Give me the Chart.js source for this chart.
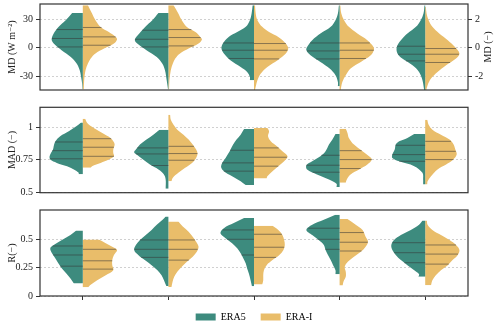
<!DOCTYPE html>
<html>
<head>
<meta charset="utf-8">
<script src="https://cdn.jsdelivr.net/npm/chart.js@4.4.0/dist/chart.umd.min.js"></script>
<style>
  body { margin: 0; background: #fff; width: 500px; height: 325px; overflow: hidden; position: relative; }
  canvas { position: absolute; left: 0; }
</style>
</head>
<body>
<canvas id="mdChart" width="500" height="100" style="top:0"></canvas>
<canvas id="madChart" width="500" height="100" style="top:100px"></canvas>
<canvas id="rChart" width="500" height="132" style="top:200px"></canvas>
<script>
// categories and series
var categories = ['λρE (3h)', 'λρE (24h)', 'H (3h)', 'H (24h)', 'β (24h)'];
var seriesNames = ['ERA5', 'ERA-I'];

// violin profiles: [value, relative density], read from top to bottom
// MD panel: first two categories in W m-2 (left axis), the rest in (-) (right axis)
var mdEra5 = [
  [[36.4,0.31],[28.7,0.50],[21.7,0.71],[14.7,0.85],[8.4,0.91],[4.2,0.85],[-2.8,0.62],[-9.9,0.35],[-16.8,0.18],[-23.9,0.09],[-30.9,0.05],[-37.9,0.02],[-44.2,0.01]],
  [[36.4,0.29],[28.7,0.47],[21.7,0.68],[14.7,0.85],[8.4,0.98],[4.2,0.91],[-2.8,0.64],[-9.9,0.34],[-16.8,0.18],[-23.9,0.10],[-34.4,0.05],[-44.2,0.01]],
  [[2.97,0.04],[2.39,0.07],[1.92,0.12],[1.45,0.24],[1.09,0.49],[0.74,0.74],[0.28,0.91],[-0.07,0.95],[-0.42,0.88],[-0.89,0.69],[-1.36,0.39],[-1.71,0.20],[-2.06,0.12],[-2.29,0.12]],
  [[2.97,0.02],[2.39,0.05],[1.92,0.12],[1.45,0.26],[0.98,0.56],[0.51,0.80],[0.04,0.95],[-0.19,0.97],[-0.54,0.85],[-1.01,0.56],[-1.47,0.29],[-1.94,0.12],[-2.41,0.05],[-2.72,0.05]],
  [[2.97,0.02],[2.39,0.05],[1.92,0.13],[1.45,0.27],[0.98,0.52],[0.51,0.71],[0.04,0.83],[-0.42,0.81],[-0.77,0.67],[-1.24,0.37],[-1.71,0.18],[-2.29,0.08],[-2.98,0.03]]
];
var mdEraI = [
  [[44.5,0.15],[35.8,0.27],[28.7,0.37],[21.7,0.52],[16.4,0.76],[11.2,0.96],[8.4,1.0],[4.2,0.91],[-1.1,0.62],[-6.3,0.37],[-11.6,0.23],[-16.8,0.15],[-23.9,0.08],[-34.4,0.04],[-44.2,0.03]],
  [[44.5,0.15],[35.8,0.29],[28.7,0.39],[21.7,0.54],[16.4,0.79],[11.2,0.93],[8.4,0.98],[4.2,0.88],[-1.1,0.59],[-6.3,0.34],[-11.6,0.20],[-16.8,0.13],[-23.9,0.07],[-34.4,0.03],[-44.2,0.02]],
  [[2.97,0.03],[2.39,0.05],[1.92,0.10],[1.45,0.24],[1.09,0.44],[0.74,0.71],[0.28,0.93],[-0.07,1.0],[-0.42,0.93],[-0.89,0.69],[-1.36,0.39],[-1.82,0.20],[-2.29,0.10],[-2.76,0.05],[-2.98,0.03]],
  [[2.97,0.02],[2.39,0.05],[1.92,0.13],[1.45,0.27],[0.98,0.52],[0.51,0.81],[0.04,0.99],[-0.19,1.0],[-0.54,0.91],[-1.01,0.62],[-1.47,0.32],[-1.94,0.18],[-2.41,0.08],[-2.98,0.03]],
  [[2.85,0.02],[2.39,0.04],[1.92,0.10],[1.45,0.21],[0.98,0.41],[0.51,0.66],[0.04,0.87],[-0.42,1.0],[-0.77,0.90],[-1.24,0.61],[-1.71,0.36],[-2.18,0.17],[-2.64,0.07],[-2.98,0.03]]
];
var mdEra5Quart = [[18.9,9.5,0.6],[18.2,8.7,0.6],[0.32,-0.19,-0.77],[0.32,-0.24,-0.80],[0.09,-0.47,-0.94]];
var mdEraIQuart = [[21.1,11.2,2.4],[18.9,10.5,1.7],[0.28,-0.19,-0.80],[0.32,-0.19,-0.77],[-0.07,-0.47,-1.05]];

// MAD panel
var madEra5 = [
  [[1.035,0.05],[1.005,0.19],[0.967,0.41],[0.929,0.66],[0.891,0.80],[0.853,0.85],[0.828,0.87],[0.803,0.93],[0.777,0.97],[0.752,0.95],[0.727,0.76],[0.702,0.46],[0.677,0.26],[0.651,0.12],[0.641,0.12]],
  [[0.980,0.26],[0.942,0.44],[0.904,0.64],[0.866,0.83],[0.828,0.95],[0.808,1.0],[0.790,0.93],[0.752,0.74],[0.714,0.54],[0.677,0.29],[0.639,0.13],[0.601,0.08],[0.530,0.08]],
  [[0.985,0.29],[0.942,0.39],[0.904,0.51],[0.866,0.61],[0.815,0.71],[0.765,0.83],[0.727,0.93],[0.694,0.96],[0.664,0.88],[0.626,0.64],[0.588,0.39],[0.558,0.24]],
  [[0.947,0.12],[0.904,0.21],[0.866,0.31],[0.815,0.41],[0.777,0.56],[0.739,0.80],[0.709,0.97],[0.677,0.95],[0.639,0.66],[0.601,0.31],[0.568,0.09],[0.543,0.09]],
  [[0.947,0.32],[0.917,0.52],[0.891,0.76],[0.866,0.86],[0.828,0.89],[0.790,0.96],[0.765,0.96],[0.739,0.76],[0.702,0.32],[0.651,0.08],[0.601,0.06],[0.563,0.06]]
];
var madEraI = [
  [[1.063,0.07],[1.030,0.13],[0.992,0.32],[0.955,0.57],[0.917,0.81],[0.891,0.89],[0.866,0.93],[0.828,0.89],[0.803,0.89],[0.777,0.91],[0.752,0.76],[0.727,0.52],[0.702,0.27],[0.689,0.23]],
  [[1.093,0.05],[1.055,0.07],[1.017,0.15],[0.980,0.26],[0.942,0.44],[0.904,0.59],[0.866,0.71],[0.828,0.81],[0.798,0.85],[0.765,0.81],[0.727,0.69],[0.689,0.49],[0.651,0.29],[0.614,0.13],[0.588,0.09]],
  [[0.992,0.39],[0.967,0.44],[0.929,0.41],[0.891,0.49],[0.853,0.67],[0.815,0.83],[0.777,0.98],[0.739,0.88],[0.702,0.71],[0.664,0.54],[0.626,0.39],[0.608,0.37]],
  [[0.987,0.18],[0.955,0.23],[0.917,0.27],[0.866,0.42],[0.815,0.67],[0.777,0.86],[0.752,0.94],[0.714,0.81],[0.677,0.57],[0.639,0.32],[0.601,0.21],[0.576,0.18]],
  [[1.055,0.06],[1.017,0.10],[0.980,0.21],[0.942,0.46],[0.904,0.71],[0.866,0.83],[0.828,0.88],[0.790,0.92],[0.752,0.82],[0.714,0.61],[0.677,0.36],[0.626,0.17],[0.588,0.07],[0.563,0.06]]
];
var madEra5Quart = [[0.886,0.820,0.758],[0.841,0.795,0.707],[0.823,0.727,0.664],[0.785,0.709,0.656],[0.861,0.790,0.739]];
var madEraIQuart = [[0.911,0.846,0.777],[0.853,0.798,0.747],[0.841,0.770,0.702],[0.820,0.752,0.684],[0.891,0.815,0.752]];

// R panel
var rEra5 = [
  [[0.574,0.19],[0.536,0.36],[0.492,0.61],[0.448,0.85],[0.419,0.95],[0.375,0.90],[0.330,0.80],[0.286,0.71],[0.242,0.61],[0.198,0.48],[0.154,0.36],[0.110,0.26]],
  [[0.698,0.08],[0.669,0.17],[0.625,0.34],[0.580,0.49],[0.536,0.66],[0.492,0.83],[0.448,0.95],[0.404,1.0],[0.360,0.88],[0.315,0.69],[0.271,0.49],[0.227,0.32],[0.183,0.20],[0.139,0.13],[0.088,0.06]],
  [[0.684,0.29],[0.640,0.59],[0.595,0.88],[0.551,0.98],[0.507,0.83],[0.463,0.64],[0.419,0.49],[0.375,0.39],[0.330,0.31],[0.286,0.24],[0.242,0.20],[0.198,0.15],[0.139,0.10],[0.086,0.06]],
  [[0.713,0.12],[0.669,0.46],[0.625,0.80],[0.580,0.97],[0.536,0.80],[0.492,0.61],[0.448,0.46],[0.404,0.41],[0.360,0.34],[0.315,0.26],[0.271,0.19],[0.227,0.12],[0.192,0.12]],
  [[0.663,0.08],[0.625,0.18],[0.580,0.42],[0.536,0.71],[0.492,0.91],[0.448,0.99],[0.404,0.96],[0.360,0.86],[0.315,0.71],[0.271,0.52],[0.227,0.32],[0.192,0.18],[0.168,0.20]]
];
var rEraI = [
  [[0.495,0.47],[0.463,0.67],[0.433,0.86],[0.404,1.0],[0.360,0.91],[0.315,0.86],[0.271,0.86],[0.227,0.89],[0.183,0.67],[0.139,0.42],[0.095,0.21],[0.077,0.16]],
  [[0.654,0.29],[0.610,0.42],[0.565,0.59],[0.521,0.71],[0.477,0.81],[0.433,0.88],[0.389,0.83],[0.345,0.71],[0.300,0.54],[0.256,0.39],[0.212,0.26],[0.168,0.17],[0.124,0.12],[0.080,0.09]],
  [[0.616,0.54],[0.580,0.71],[0.536,0.83],[0.492,0.88],[0.448,0.90],[0.404,0.86],[0.360,0.74],[0.315,0.54],[0.271,0.37],[0.227,0.29],[0.183,0.27],[0.139,0.27],[0.100,0.24]],
  [[0.675,0.23],[0.625,0.47],[0.580,0.67],[0.521,0.76],[0.477,0.83],[0.433,0.76],[0.389,0.62],[0.345,0.42],[0.300,0.24],[0.256,0.15],[0.212,0.18],[0.168,0.18],[0.124,0.11],[0.092,0.09]],
  [[0.663,0.05],[0.625,0.07],[0.580,0.21],[0.536,0.46],[0.492,0.71],[0.448,0.90],[0.404,1.0],[0.360,0.95],[0.315,0.80],[0.271,0.66],[0.227,0.46],[0.183,0.31],[0.139,0.21],[0.095,0.17]]
];
var rEra5Quart = [[0.439,0.360,0.262],[0.492,0.410,0.339],[0.580,0.498,0.360],[0.595,0.498,0.410],[0.468,0.380,0.292]];
var rEraIQuart = [[0.410,0.309,0.236],[0.492,0.410,0.315],[0.542,0.428,0.339],[0.557,0.472,0.395],[0.448,0.368,0.280]];

// tick labels
var mdTicks = [-30, 0, 30];
var mdRightTicks = [-2, 0, 2];
var madTicks = [0.5, 0.75, 1];
var rTicks = [0, 0.25, 0.5];

//colours
var colors = ['#3d8b7e', '#e9bd6a'];
var FONT = "'Liberation Serif', 'DejaVu Serif', serif";
var HALF = 0.4; // max half width of a violin, in category units

Chart.defaults.font.family = FONT;
Chart.defaults.font.size = 10;
Chart.defaults.color = '#222';

// density at a value, from the profile (for the quartile line ends)
function widthAt(prof, v) {
    for (var k = 0; k < prof.length - 1; k++) {
        var v0 = prof[k][0], d0 = prof[k][1], v1 = prof[k + 1][0], d1 = prof[k + 1][1];
        if (v <= v0 && v >= v1) return d0 + (d1 - d0) * (v0 - v) / (v0 - v1);
    }
    return 0;
}

function violinSets(era5, eraI, q5, qI, axisOf) {
    var lines = [], fills = [];
    [[era5, q5, -1, colors[0]], [eraI, qI, 1, colors[1]]].forEach(function(s) {
        var profs = s[0], quarts = s[1], side = s[2], color = s[3];
        profs.forEach(function(prof, i) {
            var axis = axisOf(i);
            fills.push({
                data: prof.map(p => ({x: i + side * HALF * p[1], y: p[0]})),
                yAxisID: axis,
                backgroundColor: color,
                borderColor: 'rgba(0,0,0,0)',
                borderWidth: 0,
                fill: {value: i},
                tension: 0.35,
                pointRadius: 0
            });
            quarts[i].forEach(function(q) {
                lines.push({
                    data: [{x: i, y: q}, {x: i + side * HALF * widthAt(prof, q), y: q}],
                    yAxisID: axis,
                    borderColor: 'rgba(55,55,55,0.55)',
                    borderWidth: 1,
                    fill: false,
                    tension: 0,
                    pointRadius: 0
                });
            });
        });
    });
    // lines first so they end up on top
    return lines.concat(fills);
}

function yScale(min, max, ticks, title, width, position) {
    return {
        type: 'linear',
        position: position,
        min: min,
        max: max,
        afterBuildTicks: s => { s.ticks = ticks.map(v => ({value: v})); },
        afterFit: s => { s.width = width; s.paddingTop = 0; s.paddingBottom = 0; },
        ticks: { callback: v => String(v), padding: 3, font: {size: 10} },
        grid: { color: '#c4c4c4', lineWidth: 0.8, tickColor: '#333', tickLength: 4, tickWidth: 1, drawOnChartArea: position === 'left' },
        border: { display: false, dash: [2, 2] },
        title: { display: !!title, text: title || '', font: {size: 10}, padding: {top: 6, bottom: 0} }
    };
}

function xScale(showTicks) {
    if (!showTicks) return { type: 'linear', min: -0.5, max: 4.5, display: false };
    return {
        type: 'linear', min: -0.5, max: 4.5,
        afterBuildTicks: s => { s.ticks = categories.map((c, i) => ({value: i})); },
        afterFit: s => { s.height = 1; s.paddingLeft = 0; s.paddingRight = 0; },
        ticks: { callback: v => categories[v], padding: 3, autoSkip: false, maxRotation: 0, font: {size: 10} },
        grid: { drawOnChartArea: false, tickColor: '#333', tickLength: 4, tickWidth: 1 },
        border: { display: false }
    };
}

// box round each panel
var framePlugin = {
    id: 'frame',
    afterDraw(chart) {
        var a = chart.chartArea, ctx = chart.ctx;
        ctx.save();
        ctx.strokeStyle = '#333';
        ctx.lineWidth = 1.2;
        ctx.strokeRect(a.left, a.top, a.right - a.left, a.bottom - a.top);
        ctx.restore();
    }
};

// right axis title, reading bottom to top like the left ones
var rightTitleText = 'MD (−)';
var rightTitlePlugin = {
    id: 'rightTitle',
    afterDraw(chart) {
        var s = chart.scales.y2, ctx = chart.ctx;
        ctx.save();
        ctx.translate(s.right - 12, (s.top + s.bottom) / 2);
        ctx.rotate(-Math.PI / 2);
        ctx.textAlign = 'center';
        ctx.textBaseline = 'middle';
        ctx.font = '10px ' + FONT;
        ctx.fillStyle = '#222';
        ctx.fillText(rightTitleText, 0, 0);
        ctx.restore();
    }
};

// the legend sits a little right of the canvas centre
var legendShift = {
    id: 'legendShift',
    afterLayout(chart) {
        if (chart.legend) { chart.legend.left += 20; chart.legend.right += 20; }
    }
};

function baseOptions(padding, scales, legend) {
    return {
        responsive: false,
        animation: false,
        events: [],
        indexAxis: 'y',
        layout: { padding: padding },
        plugins: { legend: legend || {display: false}, tooltip: {enabled: false} },
        scales: scales
    };
}

// ------- MD panel -------
new Chart('mdChart', {
    type: 'line',
    data: { datasets: violinSets(mdEra5, mdEraI, mdEra5Quart, mdEraIQuart, i => i < 2 ? 'y' : 'y2') },
    options: baseOptions({top: 4, bottom: 10, left: 0, right: 0}, {
        x: xScale(false),
        y: yScale(-44.7, 45.8, mdTicks, 'MD (W m⁻²)', 40, 'left'),
        y2: yScale(-44.7 / 15, 45.8 / 15, mdRightTicks, '', 32, 'right')
    }),
    plugins: [framePlugin, rightTitlePlugin]
});

// ------- MAD panel -------
new Chart('madChart', {
    type: 'line',
    data: { datasets: violinSets(madEra5, madEraI, madEra5Quart, madEraIQuart, i => 'y') },
    options: baseOptions({top: 7.3, bottom: 7.3, left: 0, right: 32}, {
        x: xScale(false),
        y: yScale(0.5, 1.15, madTicks, 'MAD (−)', 40, 'left')
    }),
    plugins: [framePlugin]
});

// ------- R panel -------
new Chart('rChart', {
    type: 'line',
    data: { datasets: violinSets(rEra5, rEraI, rEra5Quart, rEraIQuart, i => 'y') },
    options: baseOptions({top: 10, bottom: 0, left: 0, right: 32}, {
        x: xScale(true),
        y: yScale(0, 0.755, rTicks, 'R(−)', 40, 'left')
    }, {
        display: true,
        position: 'bottom',
        onClick: null,
        labels: {
            boxWidth: 20,
            boxHeight: 7,
            padding: 15,
            font: {size: 10},
            generateLabels: () => seriesNames.map((n, k) => ({
                text: n, fillStyle: colors[k], strokeStyle: colors[k], lineWidth: 0, hidden: false, datasetIndex: k
            }))
        }
    }),
    plugins: [framePlugin, legendShift]
});
</script>
</body>
</html>
